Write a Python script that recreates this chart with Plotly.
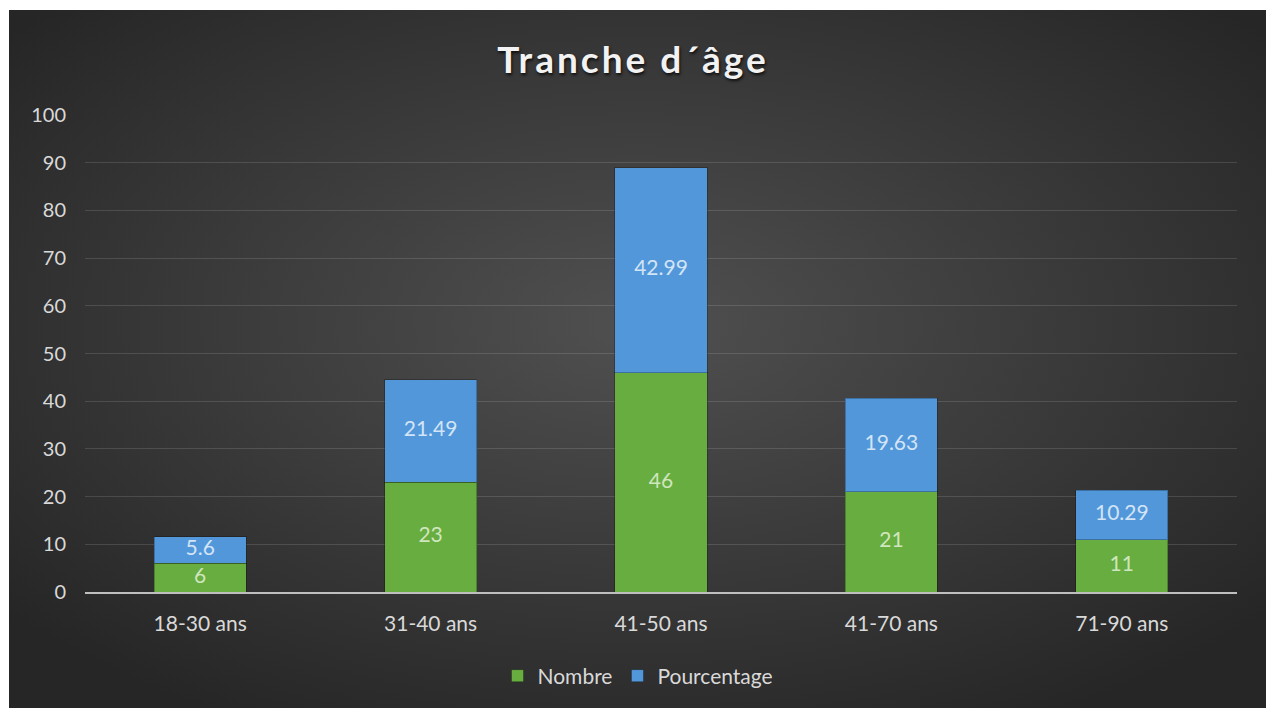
import base64
import plotly.graph_objects as go

categories = ["18-30 ans", "31-40 ans", "41-50 ans", "41-70 ans", "71-90 ans"]
nombre = [6, 23, 46, 21, 11]
pourcentage = [5.6, 21.49, 42.99, 19.63, 10.29]
y_ticks = [0, 10, 20, 30, 40, 50, 60, 70, 80, 90, 100]

W, H = 1266, 708
L, R, T, B = 85, 29, 115, 116
pw, ph = W - L - R, H - T - B

svg = (
    '<svg xmlns="http://www.w3.org/2000/svg" width="1257" height="698" '
    'viewBox="0 0 1257 698" preserveAspectRatio="none">'
    '<defs><radialGradient id="g" cx="50%" cy="45%" r="65%">'
    '<stop offset="0%" stop-color="#505050"/>'
    '<stop offset="100%" stop-color="#262626"/>'
    '</radialGradient></defs>'
    '<rect width="1257" height="698" fill="url(#g)"/></svg>'
)
bg_src = "data:image/svg+xml;base64," + base64.b64encode(svg.encode()).decode()

font = "Lato, 'Open Sans', sans-serif"

fig = go.Figure()
fig.add_trace(go.Bar(
    x=categories, y=nombre, name="Nombre",
    marker=dict(color="#68ad3f", line=dict(color="rgba(0,0,0,0.25)", width=1)),
    hoverinfo="skip",
))
fig.add_trace(go.Bar(
    x=categories, y=pourcentage, name="Pourcentage",
    marker=dict(color="#5297da", line=dict(color="rgba(0,0,0,0.25)", width=1)),
    hoverinfo="skip",
))

# value labels, centred in each stacked segment
fig.add_trace(go.Scatter(
    x=categories, y=[n / 2 for n in nombre], mode="text",
    text=[str(v) for v in nombre], textposition="middle center",
    textfont=dict(color="#cfe6bf", size=21, family=font),
    showlegend=False, hoverinfo="skip",
))
fig.add_trace(go.Scatter(
    x=categories, y=[n + p / 2 for n, p in zip(nombre, pourcentage)], mode="text",
    text=[str(v) for v in pourcentage], textposition="middle center",
    textfont=dict(color="#d3e4f6", size=21, family=font),
    showlegend=False, hoverinfo="skip",
))

fig.update_layout(
    width=W, height=H,
    margin=dict(l=L, r=R, t=T, b=B),
    barmode="stack",
    bargap=0.6,
    paper_bgcolor="white",
    plot_bgcolor="rgba(0,0,0,0)",
    font=dict(family=font, color="#d9d9d9", size=20),
    title=dict(text="<b>Tranche d´âge</b>", x=0.5, xanchor="center",
               y=1 - 60 / H, yanchor="middle",
               font=dict(size=37, color="#f2f2f2", family=font,
                         shadow="1px 2px 3px rgba(0,0,0,0.75)")),
    legend=dict(orientation="h", x=(638 - L) / pw, xanchor="center",
                y=-84 / ph, yanchor="middle",
                font=dict(size=21, color="#d9d9d9"),
                bgcolor="rgba(0,0,0,0)", itemwidth=30, traceorder="normal"),
    images=[dict(source=bg_src, xref="paper", yref="paper",
                 x=(9 - L) / pw, y=(H - B - 10) / ph,
                 sizex=1257 / pw, sizey=698 / ph,
                 xanchor="left", yanchor="top",
                 sizing="stretch", layer="below")],
)
fig.update_xaxes(showgrid=False, showline=True, linecolor="#bfbfbf", linewidth=2,
                 ticks="", ticklabelstandoff=12,
                 tickfont=dict(size=21, color="#d9d9d9"))
fig.update_yaxes(range=[0, 100], tickvals=y_ticks, showgrid=True,
                 gridcolor="rgba(255,255,255,0.13)", gridwidth=1,
                 zeroline=False, showline=False, ticks="",
                 ticklabelstandoff=18,
                 tickfont=dict(size=20, color="#d9d9d9"))

post = (
    "document.body.style.margin='0';"
    "document.body.style.overflow='hidden';"
    "var t=document.querySelector('#{plot_id} .gtitle');"
    "if(t){t.style.letterSpacing='3px';}"
)
fig.write_html("out.html", post_script=post, config={"displayModeBar": False})
